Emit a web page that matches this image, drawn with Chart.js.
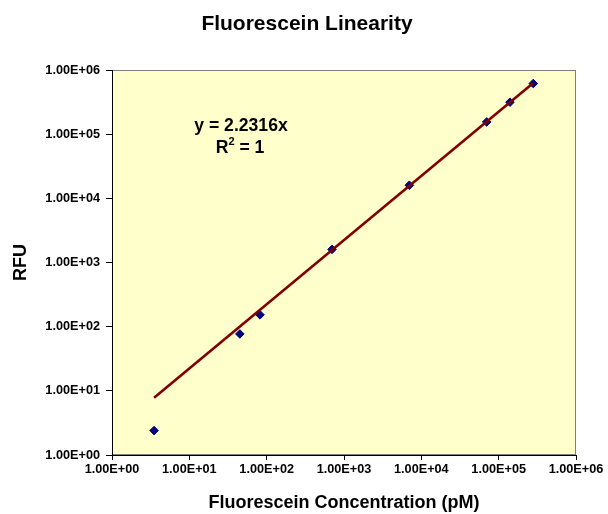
<!DOCTYPE html>
<html>
<head>
<meta charset="utf-8">
<script src="https://cdn.jsdelivr.net/npm/chart.js@4"></script>
<style>
  html, body { margin: 0; padding: 0; background: #ffffff; }
  #wrap { width: 608px; height: 514px; }
</style>
</head>
<body>
<div id="wrap"><canvas id="linearityChart"></canvas></div>
<script>
// Values
const concentrations = [3.5, 45, 82, 700, 7000, 70000, 140000, 280000];   // pM
const rfuValues = [2.4, 77, 153, 1600, 16000, 155000, 315000, 615000];
const xTickValues = [1, 10, 100, 1000, 10000, 100000, 1000000];
const yTickValues = [1, 10, 100, 1000, 10000, 100000, 1000000];
const trendSlope = 2.2316;
const trendText = 'y = 2.2316x';
const rSquaredText = '1';

const FONT = '"Liberation Sans", Arial, sans-serif';

// Excel style "1.00E+06"
function sciLabel(v) {
    const e = Math.round(Math.log10(v));
    const m = (v / Math.pow(10, e)).toFixed(2);
    return m + 'E' + (e < 0 ? '-' : '+') + String(Math.abs(e)).padStart(2, '0');
}

const scatterPoints = concentrations.map((c, i) => ({ x: c, y: rfuValues[i] }));
const firstX = concentrations[0];
const lastX = concentrations[concentrations.length - 1];
const trendPoints = [
    { x: firstX, y: trendSlope * firstX },
    { x: lastX, y: trendSlope * lastX }
];

// yellow plot area + grey frame (left/bottom get covered by the black axes)
const plotFrame = {
    id: 'plotFrame',
    beforeDraw(chart) {
        const { ctx, chartArea: a } = chart;
        ctx.save();
        ctx.fillStyle = '#FFFFCC';
        ctx.fillRect(a.left, a.top, a.right - a.left, a.bottom - a.top);
        ctx.strokeStyle = '#808080';
        ctx.lineWidth = 1;
        ctx.strokeRect(a.left + 0.5, a.top + 0.5, a.right - a.left - 1, a.bottom - a.top - 1);
        ctx.restore();
    }
};

// chart title and the trendline equation box
const textOverlay = {
    id: 'textOverlay',
    afterDraw(chart) {
        const { ctx } = chart;
        ctx.save();
        ctx.fillStyle = '#000000';
        ctx.textBaseline = 'alphabetic';

        ctx.font = 'bold 21px ' + FONT;
        ctx.textAlign = 'center';
        ctx.fillText('Fluorescein Linearity', 307, 30);

        ctx.font = 'bold 17.6px ' + FONT;
        ctx.fillText(trendText, 241, 131);

        // R² = 1 with a raised 2
        const big = 'bold 17.6px ' + FONT, small = 'bold 11px ' + FONT;
        ctx.font = big;
        const wR = ctx.measureText('R').width;
        const wRest = ctx.measureText(' = ' + rSquaredText).width;
        ctx.font = small;
        const w2 = ctx.measureText('2').width;
        let x = 240 - (wR + w2 + wRest) / 2;
        ctx.textAlign = 'left';
        ctx.font = big;
        ctx.fillText('R', x, 153);
        ctx.font = small;
        ctx.fillText('2', x + wR, 145);
        ctx.font = big;
        ctx.fillText(' = ' + rSquaredText, x + wR + w2, 153);
        ctx.restore();
    }
};

const tickFont = { family: FONT, size: 12.7, weight: 'bold' };
const titleFont = { family: FONT, size: 18, weight: 'bold' };

new Chart(document.getElementById('linearityChart'), {
    type: 'scatter',
    data: {
        datasets: [
            {
                type: 'line',
                label: 'Linear fit',
                data: trendPoints,
                borderColor: '#800000',
                borderWidth: 2.6,
                pointRadius: 0,
                fill: false,
                order: 0
            },
            {
                label: 'RFU',
                data: scatterPoints,
                pointStyle: 'rectRot',
                pointRadius: 4.3,
                backgroundColor: '#000080',
                borderColor: '#000080',
                borderWidth: 1,
                order: 1
            }
        ]
    },
    options: {
        responsive: true,
        maintainAspectRatio: false,
        animation: false,
        layout: { padding: { top: 70, right: 32, bottom: 0, left: 0 } },
        plugins: {
            legend: { display: false },
            title: { display: false },
            tooltip: { enabled: false }
        },
        scales: {
            x: {
                type: 'logarithmic',
                position: 'bottom',
                min: 1,
                max: 1000000,
                afterBuildTicks: s => { s.ticks = xTickValues.map(v => ({ value: v })); },
                afterFit: s => { s.height = 59; },
                ticks: {
                    callback: v => sciLabel(v),
                    font: tickFont,
                    color: '#000000',
                    autoSkip: false,
                    maxRotation: 0,
                    padding: 2
                },
                grid: { drawOnChartArea: false, drawTicks: true, tickLength: 5, color: '#000000' },
                border: { display: true, color: '#000000', width: 1 },
                title: {
                    display: true,
                    text: 'Fluorescein Concentration (pM)',
                    font: titleFont,
                    color: '#000000',
                    padding: { top: 0, bottom: 0 }
                }
            },
            y: {
                type: 'logarithmic',
                position: 'left',
                min: 1,
                max: 1000000,
                afterBuildTicks: s => { s.ticks = yTickValues.map(v => ({ value: v })); },
                afterFit: s => { s.width = 112; },
                ticks: {
                    callback: v => sciLabel(v),
                    font: tickFont,
                    color: '#000000',
                    autoSkip: false,
                    padding: 6
                },
                grid: { drawOnChartArea: false, drawTicks: true, tickLength: 6, color: '#000000' },
                border: { display: true, color: '#000000', width: 1 },
                title: {
                    display: true,
                    text: 'RFU',
                    font: titleFont,
                    color: '#000000',
                    padding: { top: 10, bottom: 0 }
                }
            }
        }
    },
    plugins: [plotFrame, textOverlay]
});
</script>
</body>
</html>
